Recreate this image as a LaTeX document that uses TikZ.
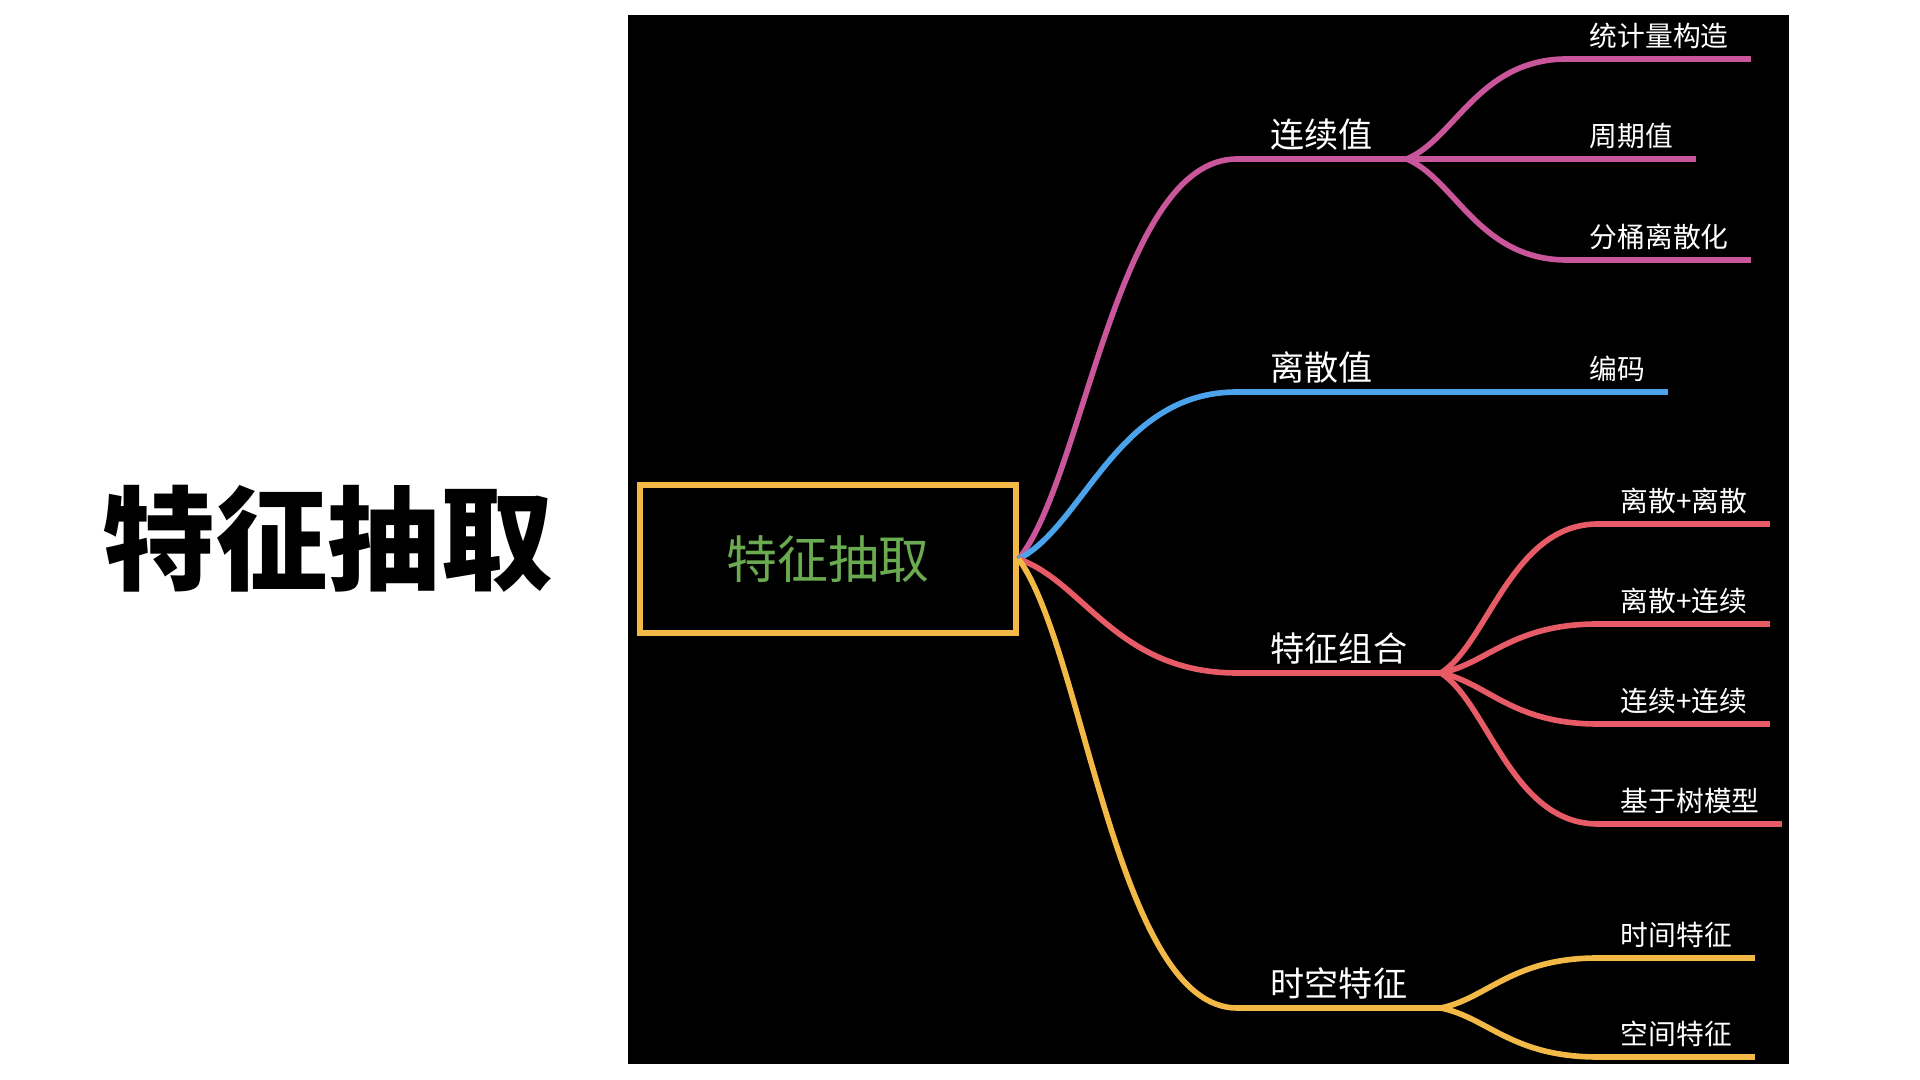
\documentclass[tikz,border=0pt]{standalone}
\usepackage{fontspec}
\newfontfamily\cjk{Noto Sans CJK SC}
\usetikzlibrary{calc}

\definecolor{pinkbr}{HTML}{C9559B}
\definecolor{bluebr}{HTML}{4AA3EB}
\definecolor{redbr}{HTML}{E65B66}
\definecolor{yellowbr}{HTML}{F2B946}
\definecolor{greentxt}{HTML}{6AAA50}

% curved mind map connector
\newcommand\mmlink[3]{\draw[#1] let \p1=(#2), \p2=(#3) in
	(\p1) .. controls ({\x1+0.3*(\x2-\x1)},{\y1+0.2*(\y2-\y1)}) and ({\x1+0.45*(\x2-\x1)},\y2) .. (\p2);}

\begin{document}
\begin{tikzpicture}[x=0.01cm,y=-0.01cm,
	every node/.style={font=\cjk,text=white,inner ysep=0pt},
	lvone/.style={anchor=south west,inner xsep=0.33cm,font=\cjk\fontsize{9.7}{11}\selectfont,text height=0.9em,text depth=0.3em},
	lvtwo/.style={anchor=south west,inner xsep=0.22cm,font=\cjk\fontsize{7.9}{9}\selectfont,text height=0.9em,text depth=0.34em}]
\useasboundingbox (0,0) rectangle (1920,1080);
\fill[white] (0,0) rectangle (1920,1080);
\fill[black] (628,15) rectangle (1789,1064);

\node[text=black,font=\cjk\bfseries\fontsize{32}{36}\selectfont] (title) at (328,539) {特征抽取};
\node[draw=yellowbr,line width=1.7pt,minimum width=3.75cm,minimum height=1.48cm,
	text=greentxt,font=\cjk\fontsize{14.5}{16}\selectfont] (root) at (828,559) {\raisebox{-0.2ex}{特征抽取}};

% main topics
\foreach \nm/\x/\y/\t in {cont/1237/159/连续值,disc/1237/392/离散值,comb/1237/673/特征组合,spat/1237/1008/时空特征}
	\node[lvone] (\nm) at (\x,\y) {\t};
% sub topics
\foreach \nm/\x/\y/\t in {stat/1567/59/统计量构造,peri/1567/159/周期值,bin/1567/260/分桶离散化,enc/1567/392/编码,
	dd/1598/524/离散+离散,dc/1598/624/离散+连续,cc/1598/724/连续+连续,tree/1598/824/基于树模型,
	time/1598/958/时间特征,space/1598/1057/空间特征}
	\node[lvtwo] (\nm) at (\x,\y) {\t};

\foreach \nm/\col in {cont/pinkbr,disc/bluebr,comb/redbr,spat/yellowbr}{
	\draw[\col,line width=1.7pt] (\nm.south west)--(\nm.south east);
	\mmlink{\col,line width=1.6pt}{root.east}{\nm.south west}}
\foreach \fr/\to/\col in {cont/stat/pinkbr,cont/peri/pinkbr,cont/bin/pinkbr,disc/enc/bluebr,
	comb/dd/redbr,comb/dc/redbr,comb/cc/redbr,comb/tree/redbr,spat/time/yellowbr,spat/space/yellowbr}{
	\draw[\col,line width=1.8pt] (\to.south west)--(\to.south east);
	\mmlink{\col,line width=1.6pt}{\fr.south east}{\to.south west}}
\end{tikzpicture}
\end{document}
